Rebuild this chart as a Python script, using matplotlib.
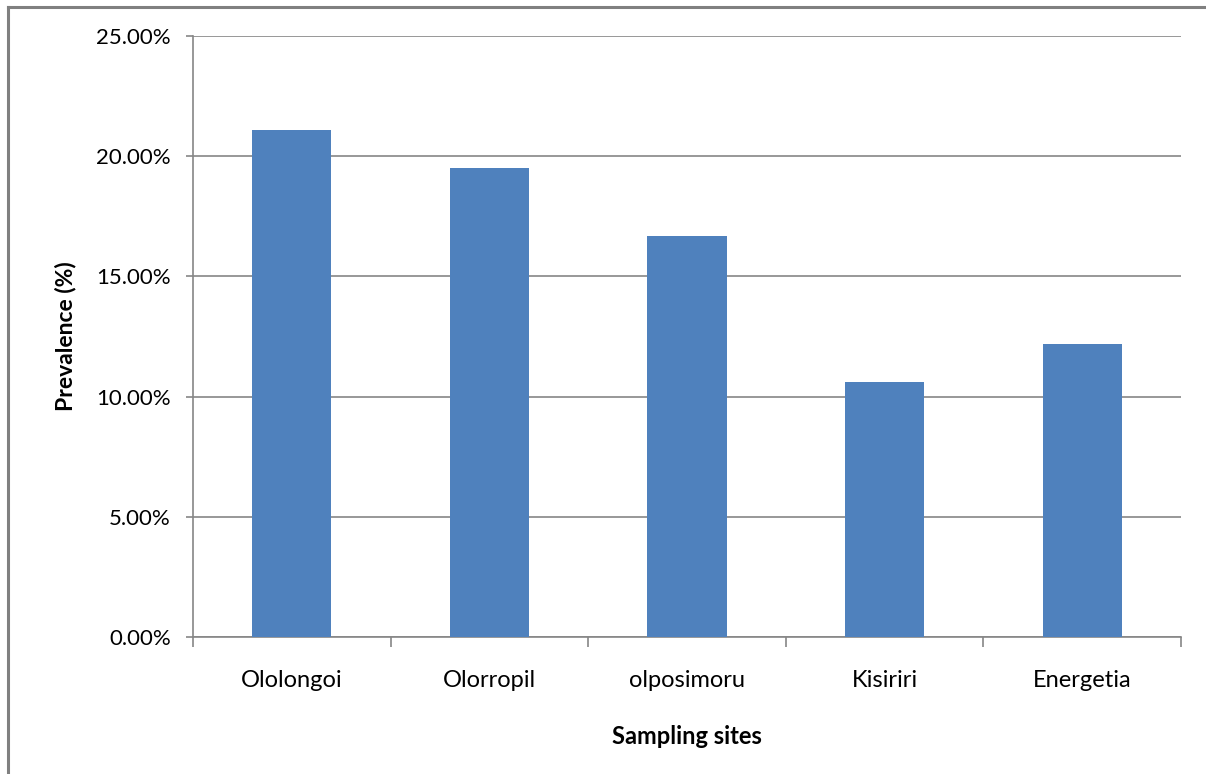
import matplotlib.pyplot as plt
from matplotlib.lines import Line2D
from matplotlib.ticker import FixedLocator, PercentFormatter

plt.rcParams["font.family"] = ["Lato", "DejaVu Sans"]

sites = ["Ololongoi", "Olorropil", "olposimoru", "Kisiriri", "Energetia"]
prevalence = [21.1, 19.5, 16.7, 10.6, 12.2]
y_ticks = [0, 5, 10, 15, 20, 25]

bar_color = "#4F81BD"
line_gray = "#868686"

fig = plt.figure(figsize=(12.06, 7.74), dpi=100)
ax = fig.add_axes([0.160, 0.177, 0.8193, 0.7765])

x = list(range(len(sites)))
ax.bar(x, prevalence, width=0.4, color=bar_color, zorder=3)

ax.set_xlim(-0.5, len(sites) - 0.5)
ax.set_ylim(0, 25)
ax.set_yticks(y_ticks)
ax.yaxis.set_major_formatter(PercentFormatter(decimals=2))
ax.grid(axis="y", color=line_gray, linewidth=1.2, zorder=0)

ax.set_xticks(x)
ax.set_xticklabels(sites)
ax.xaxis.set_minor_locator(FixedLocator([i - 0.5 for i in range(len(sites) + 1)]))
ax.tick_params(axis="x", which="major", length=0, pad=24, labelsize=17)
ax.tick_params(axis="x", which="minor", length=7, width=1.2, color=line_gray, direction="out")
ax.tick_params(axis="y", length=5, width=1.2, color=line_gray, pad=11, labelsize=16)

for side in ("top", "right"):
    ax.spines[side].set_visible(False)
for side in ("left", "bottom"):
    ax.spines[side].set_color(line_gray)
    ax.spines[side].set_linewidth(1.2)

ax.set_ylabel("Prevalence (%)", fontsize=16.5, fontweight="bold", labelpad=14)
ax.set_xlabel("Sampling sites", fontsize=17, fontweight="bold", labelpad=24)

# outer chart frame: left and top edges only, the rest runs off the canvas
fx, fy = 8 / 1206, 1 - 7 / 774
fig.add_artist(Line2D([fx, fx], [0, fy], transform=fig.transFigure,
                      color="#808080", linewidth=2.2, solid_capstyle="projecting"))
fig.add_artist(Line2D([fx, 1], [fy, fy], transform=fig.transFigure,
                      color="#808080", linewidth=2.2, solid_capstyle="projecting"))

fig.savefig("out.png", dpi=100)
